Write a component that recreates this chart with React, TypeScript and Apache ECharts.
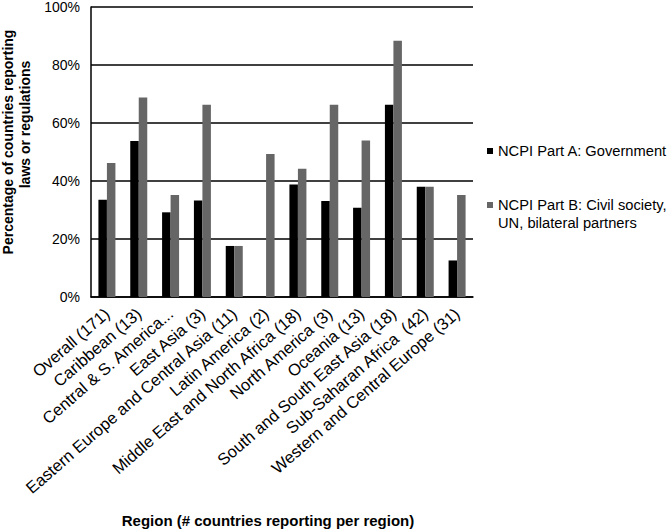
import React, { useEffect, useRef } from "react";
import * as echarts from "echarts";

const categories = [
  "Overall (171)",
  "Caribbean (13)",
  "Central & S. America...",
  "East Asia (3)",
  "Eastern Europe and Central Asia (11)",
  "Latin America (2)",
  "Middle East and North Africa (18)",
  "North America (3)",
  "Oceania (13)",
  "South and South East Asia (18)",
  "Sub-Saharan Africa  (42)",
  "Western and Central Europe (31)",
];
const partA = [33.5, 53.8, 29.2, 33.3, 17.6, 0, 38.8, 33.1, 30.8, 66.3, 38.0, 12.6];
const partB = [46.2, 68.8, 35.2, 66.3, 17.6, 49.3, 44.2, 66.3, 54.0, 88.4, 38.0, 35.2];
const yTicks = [0, 20, 40, 60, 80, 100];
const nameA = "NCPI Part A: Government";
const nameB = "NCPI Part B: Civil society, UN, bilateral partners";

const FONT = '"Liberation Sans", Arial, Helvetica, sans-serif';
const NB = "\u00A0";

export default function App() {
  const ref = useRef<HTMLDivElement>(null);
  useEffect(() => {
    if (!ref.current) return;
    const chart = echarts.init(ref.current, undefined, { renderer: "svg" });
    chart.setOption({
      animation: false,
      backgroundColor: "#ffffff",
      textStyle: { fontFamily: FONT, color: "#000" },
      grid: {
        left: 91,
        right: 195,
        top: 7,
        bottom: 233,
        containLabel: false,
        outerBoundsMode: "none",
      },
      legend: [
        {
          data: [nameA],
          orient: "vertical",
          left: 482,
          top: 137,
          icon: "rect",
          itemWidth: 6,
          itemHeight: 6,
          selectedMode: false,
          textStyle: { fontFamily: FONT, fontSize: 14.7, color: "#000", lineHeight: 18 },
        },
        {
          data: [nameB],
          orient: "vertical",
          left: 482,
          top: 173,
          icon: "rect",
          itemWidth: 6,
          itemHeight: 6,
          selectedMode: false,
          formatter: () => " \nNCPI Part B: Civil society,\nUN, bilateral partners",
          textStyle: { fontFamily: FONT, fontSize: 14.7, color: "#000", lineHeight: 18 },
        },
      ],
      xAxis: {
        type: "category",
        data: categories,
        name: "Region (# countries reporting per region)",
        nameLocation: "middle",
        nameGap: 216,
        nameTextStyle: {
          fontFamily: FONT,
          fontSize: 15,
          fontWeight: "bold",
          color: "#000",
          padding: [0, 28, 0, 0],
        },
        axisLine: { show: true, lineStyle: { color: "#000", width: 1.5 } },
        axisTick: { show: false },
        axisLabel: {
          interval: 0,
          rotate: 41,
          fontSize: 16.5,
          margin: 14,
          color: "#000",
          fontFamily: FONT,
        },
      },
      yAxis: {
        type: "value",
        min: yTicks[0],
        max: yTicks[yTicks.length - 1],
        interval: 20,
        name:
          "Percentage of countries reporting\n" +
          NB.repeat(9) +
          "laws or regulations",
        nameLocation: "middle",
        nameGap: 58,
        nameRotate: 90,
        nameTextStyle: {
          fontFamily: FONT,
          fontSize: 14,
          fontWeight: "bold",
          color: "#000",
          lineHeight: 17,
          padding: [0, 0, 0, 20],
        },
        axisLine: { show: true, lineStyle: { color: "#000", width: 1.5 } },
        axisTick: { show: false },
        axisLabel: {
          formatter: "{value}%",
          fontSize: 14,
          margin: 11,
          color: "#000",
          fontFamily: FONT,
        },
        splitLine: { show: true, lineStyle: { color: "#000", width: 1.5 } },
      },
      series: [
        {
          name: nameA,
          type: "bar",
          data: partA,
          barWidth: 8.5,
          barGap: "0%",
          itemStyle: { color: "#000000" },
        },
        {
          name: nameB,
          type: "bar",
          data: partB,
          barWidth: 8.5,
          barGap: "0%",
          itemStyle: { color: "#666666" },
        },
      ],
    });
    return () => chart.dispose();
  }, []);
  return (
    <div
      ref={ref}
      style={{ position: "fixed", left: 0, top: 0, width: 668, height: 530 }}
    />
  );
}
